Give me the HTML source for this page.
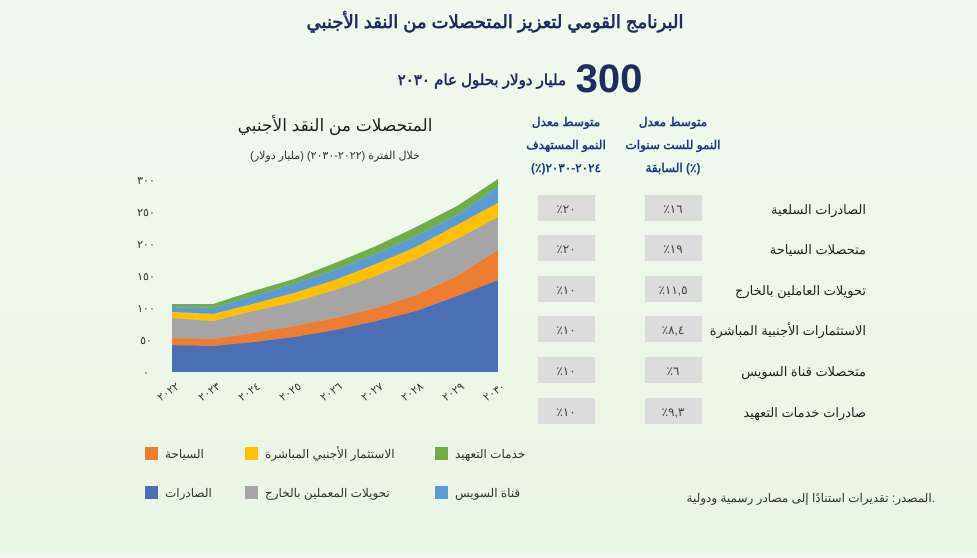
<!DOCTYPE html>
<html><head><meta charset="utf-8"><style>
html,body{margin:0;padding:0;}
body{width:977px;height:553px;overflow:hidden;background:linear-gradient(180deg,#f1f9ee 0%,#eaf6e6 100%);font-family:"Liberation Sans","Noto Sans CJK SC",sans-serif;}
svg text{font-family:"Liberation Sans","Noto Sans CJK SC",sans-serif;}
</style></head><body>
<svg width="977" height="553" viewBox="0 0 977 553" xmlns="http://www.w3.org/2000/svg">
<g fill="#1f2d5c" font-weight="bold">
<text x="495" y="28" text-anchor="middle" font-size="18">البرنامج القومي لتعزيز المتحصلات من النقد الأجنبي</text>
<text x="609" y="92" text-anchor="middle" font-size="40">300</text>
<text x="566" y="85" text-anchor="end" font-size="15">مليار دولار بحلول عام ٢٠٣٠</text>
</g>
<text x="335" y="131" text-anchor="middle" font-size="17" fill="#222">المتحصلات من النقد الأجنبي</text>
<text x="335" y="159" text-anchor="middle" font-size="11" fill="#333">خلال الفترة (٢٠٢٢-٢٠٣٠) (مليار دولار)</text>
<g font-size="11" fill="#333" text-anchor="middle">
<text x="146" y="184">٣٠٠</text><text x="146" y="216">٢٥٠</text><text x="146" y="248">٢٠٠</text>
<text x="146" y="280">١٥٠</text><text x="146" y="312">١٠٠</text><text x="146" y="344">٥٠</text><text x="146" y="376">٠</text>
</g>
<g>
<polygon fill="#70ad47" points="172,304 213,304 253,291 294,279 335,263 376,246 416,227 457,206 498,179 498,187 457,215 416,236 376,254 335,270 294,284 253,296 213,308 172,307"/>
<polygon fill="#5b9bd5" points="172,307 213,308 253,296 294,284 335,270 376,254 416,236 457,215 498,187 498,203 457,225 416,247 376,264 335,280 294,293 253,304 213,314 172,312"/>
<polygon fill="#ffc000" points="172,312 213,314 253,304 294,293 335,280 376,264 416,247 457,225 498,203 498,217 457,239 416,259 376,276 335,290 294,302 253,311 213,321 172,318"/>
<polygon fill="#a5a5a5" points="172,318 213,321 253,311 294,302 335,290 376,276 416,259 457,239 498,217 498,250 457,276 416,295 376,308 335,318 294,326 253,333 213,339 172,338"/>
<polygon fill="#ed7d31" points="172,338 213,339 253,333 294,326 335,318 376,308 416,295 457,276 498,250 498,280 457,296 416,311 376,321 335,330 294,337 253,342 213,346 172,345"/>
<polygon fill="#4a6fb5" points="172,345 213,346 253,342 294,337 335,330 376,321 416,311 457,296 498,280 498,372 172,372"/>
</g>
<g font-size="11" fill="#333" text-anchor="end">
<text transform="translate(180,388) rotate(-35)">٢٠٢٢</text>
<text transform="translate(221,388) rotate(-35)">٢٠٢٣</text>
<text transform="translate(261,388) rotate(-35)">٢٠٢٤</text>
<text transform="translate(302,388) rotate(-35)">٢٠٢٥</text>
<text transform="translate(343,388) rotate(-35)">٢٠٢٦</text>
<text transform="translate(384,388) rotate(-35)">٢٠٢٧</text>
<text transform="translate(424,388) rotate(-35)">٢٠٢٨</text>
<text transform="translate(465,388) rotate(-35)">٢٠٢٩</text>
<text transform="translate(506,388) rotate(-35)">٢٠٣٠</text>
</g>
<g font-size="12" fill="#1f3a7a" font-weight="bold" text-anchor="middle">
<text x="673" y="126">متوسط معدل</text><text x="673" y="149">النمو للست سنوات</text><text x="673" y="172">السابقة (٪)</text>
<text x="566" y="126">متوسط معدل</text><text x="566" y="149">النمو المستهدف</text><text x="566" y="172">(٪)٢٠٢٤-٢٠٣٠</text>
</g>
<g fill="#dcdcdc">
<rect x="645" y="195" width="57" height="26"/><rect x="538" y="195" width="57" height="26"/>
<rect x="645" y="235" width="57" height="26"/><rect x="538" y="235" width="57" height="26"/>
<rect x="645" y="276" width="57" height="26"/><rect x="538" y="276" width="57" height="26"/>
<rect x="645" y="316" width="57" height="26"/><rect x="538" y="316" width="57" height="26"/>
<rect x="645" y="357" width="57" height="26"/><rect x="538" y="357" width="57" height="26"/>
<rect x="645" y="398" width="57" height="26"/><rect x="538" y="398" width="57" height="26"/>
</g>
<g font-size="12" fill="#444" text-anchor="middle">
<text x="673" y="213">٪١٦</text><text x="566" y="213">٪٢٠</text>
<text x="673" y="253">٪١٩</text><text x="566" y="253">٪٢٠</text>
<text x="673" y="294">٪١١,٥</text><text x="566" y="294">٪١٠</text>
<text x="673" y="334">٪٨,٤</text><text x="566" y="334">٪١٠</text>
<text x="673" y="375">٪٦</text><text x="566" y="375">٪١٠</text>
<text x="673" y="416">٪٩,٣</text><text x="566" y="416">٪١٠</text>
</g>
<g font-size="13" fill="#222" text-anchor="end">
<text x="866" y="214">الصادرات السلعية</text>
<text x="866" y="254">متحصلات السياحة</text>
<text x="866" y="295">تحويلات العاملين بالخارج</text>
<text x="866" y="335">الاستثمارات الأجنبية المباشرة</text>
<text x="866" y="376">متحصلات قناة السويس</text>
<text x="866" y="417">صادرات خدمات التعهيد</text>
</g>
<rect x="145" y="447" width="13" height="13" fill="#ed7d31"/>
<rect x="245" y="447" width="13" height="13" fill="#ffc000"/>
<rect x="435" y="447" width="13" height="13" fill="#70ad47"/>
<rect x="145" y="486" width="13" height="13" fill="#4a6fb5"/>
<rect x="245" y="486" width="13" height="13" fill="#a5a5a5"/>
<rect x="435" y="486" width="13" height="13" fill="#5b9bd5"/>
<g font-size="12" fill="#333">
<text x="165" y="458">السياحة</text>
<text x="265" y="458">الاستثمار الأجنبي المباشرة</text>
<text x="455" y="458">خدمات التعهيد</text>
<text x="165" y="497">الصادرات</text>
<text x="265" y="497">تحويلات المعملين بالخارج</text>
<text x="455" y="497">قناة السويس</text>
<text x="935" y="502" text-anchor="end">المصدر: تقديرات استنادًا إلى مصادر رسمية ودولية.</text>
</g>
</svg>
</body></html>
